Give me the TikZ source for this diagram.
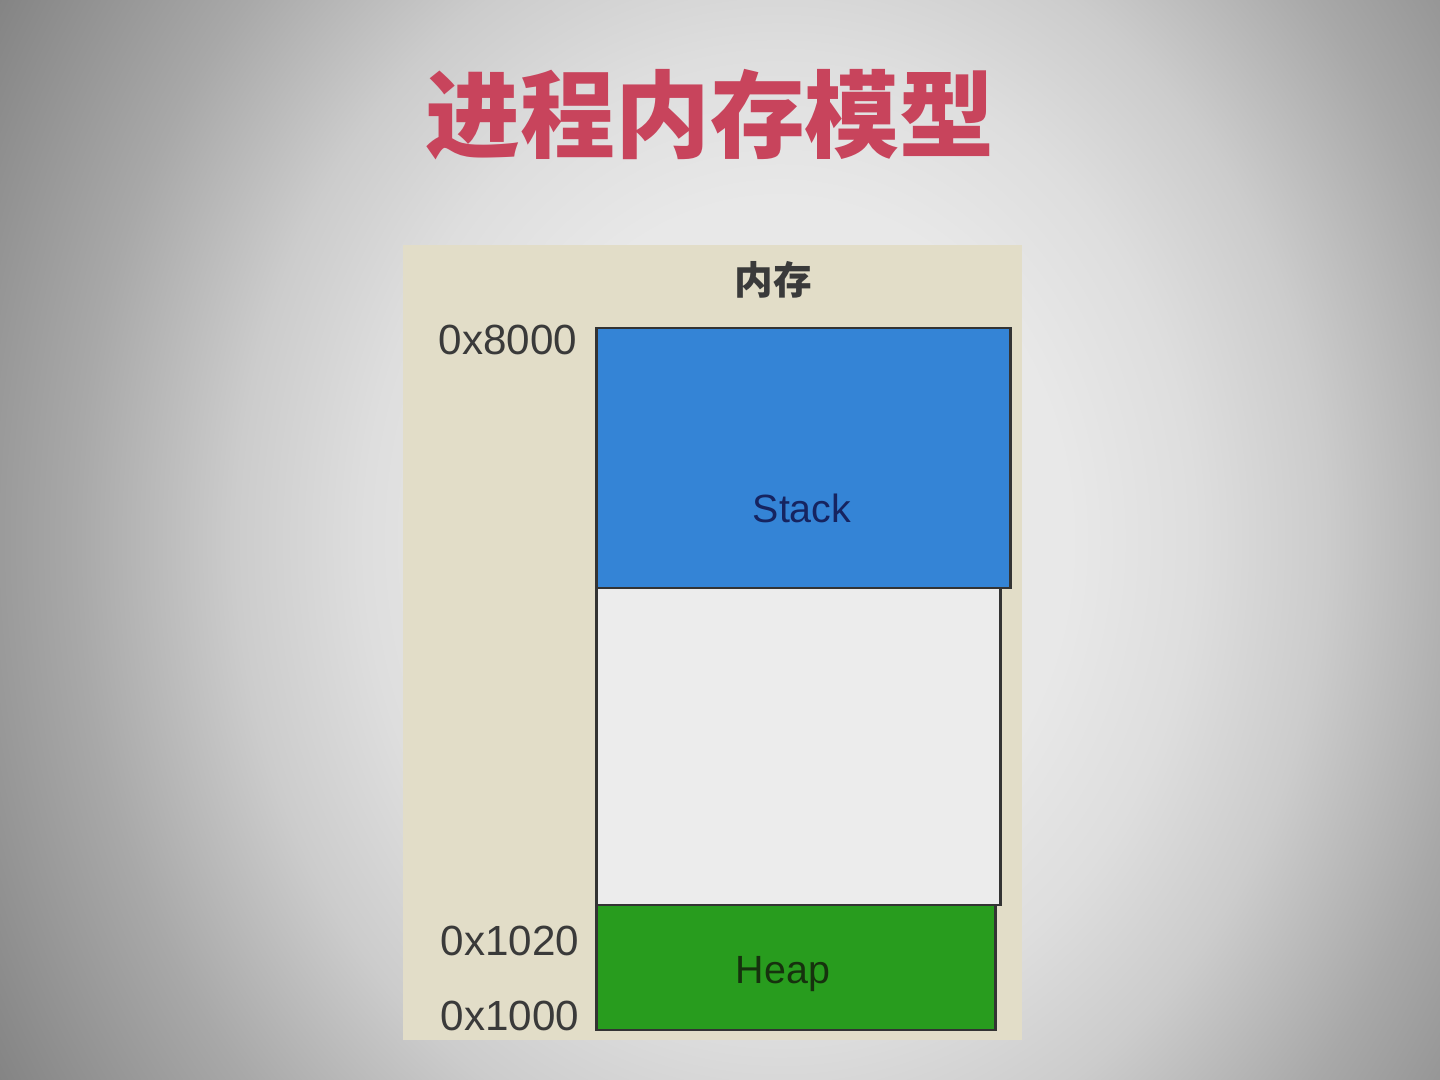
\documentclass[tikz,border=0pt]{standalone}
\usepackage{fontspec}
\setmainfont{Liberation Sans}
\newfontfamily\cjk{Noto Sans CJK SC}
\definecolor{titlered}{RGB}{200,68,92}
\definecolor{panelbeige}{RGB}{226,221,200}
\definecolor{stackblue}{RGB}{52,132,214}
\definecolor{freegray}{RGB}{236,236,236}
\definecolor{heapgreen}{RGB}{40,156,30}
\definecolor{labelgray}{RGB}{58,58,58}
\definecolor{stacktext}{RGB}{22,36,96}
\definecolor{heaptext}{RGB}{22,50,14}
% screen surface: light centre fading to grey at the edges
\pgfdeclareradialshading{screenglow}{\pgfpoint{0bp}{0bp}}{%
  color(0bp)=(black!8); color(9bp)=(black!9);
  color(13bp)=(black!13); color(17bp)=(black!20);
  color(22bp)=(black!34); color(30bp)=(black!52); color(40bp)=(black!58)}
\tikzset{
  segment/.style={draw=black!80, line width=0.85pt},
  addr/.style={anchor=east, inner sep=0pt, text=labelgray, font=\fontsize{12}{14}\selectfont},
  seglabel/.style={font=\fontsize{11.2}{13}\selectfont}
}
\begin{document}
\begin{tikzpicture}
\useasboundingbox (0,0) rectangle (14.4,-10.8);
% screen background
\begin{scope}
  \clip (0,0) rectangle (14.4,-10.8);
  \shade[shading=screenglow] (-0.2,4.0) rectangle (15.8,-14.8);
\end{scope}
% title
\node (title) at (7.1,-1.15) {\cjk\bfseries\fontsize{27}{30}\selectfont\color{titlered}进程内存模型};
% beige panel
\fill[panelbeige] (4.03,-2.45) rectangle (10.22,-10.40);
\node (mem) at (7.73,-2.80) {\cjk\bfseries\fontsize{11}{12}\selectfont\color{labelgray}内存};
% memory segments
\draw[segment, fill=stackblue] (5.96,-3.28) rectangle (10.10,-5.88);
\draw[segment, fill=freegray] (5.96,-5.88) rectangle (10.00,-9.05);
\draw[segment, fill=heapgreen] (5.96,-9.05) rectangle (9.95,-10.30);
\node[seglabel, text=stacktext] (stack) at (8.02,-5.08) {Stack};
\node[seglabel, text=heaptext] (heap) at (7.83,-9.74) {Heap};
% addresses
\node[addr] (a8000) at (5.78,-3.40) {0x8000};
\node[addr] (a1020) at (5.80,-9.41) {0x1020};
\node[addr] (a1000) at (5.80,-10.16) {0x1000};
\end{tikzpicture}
\end{document}
